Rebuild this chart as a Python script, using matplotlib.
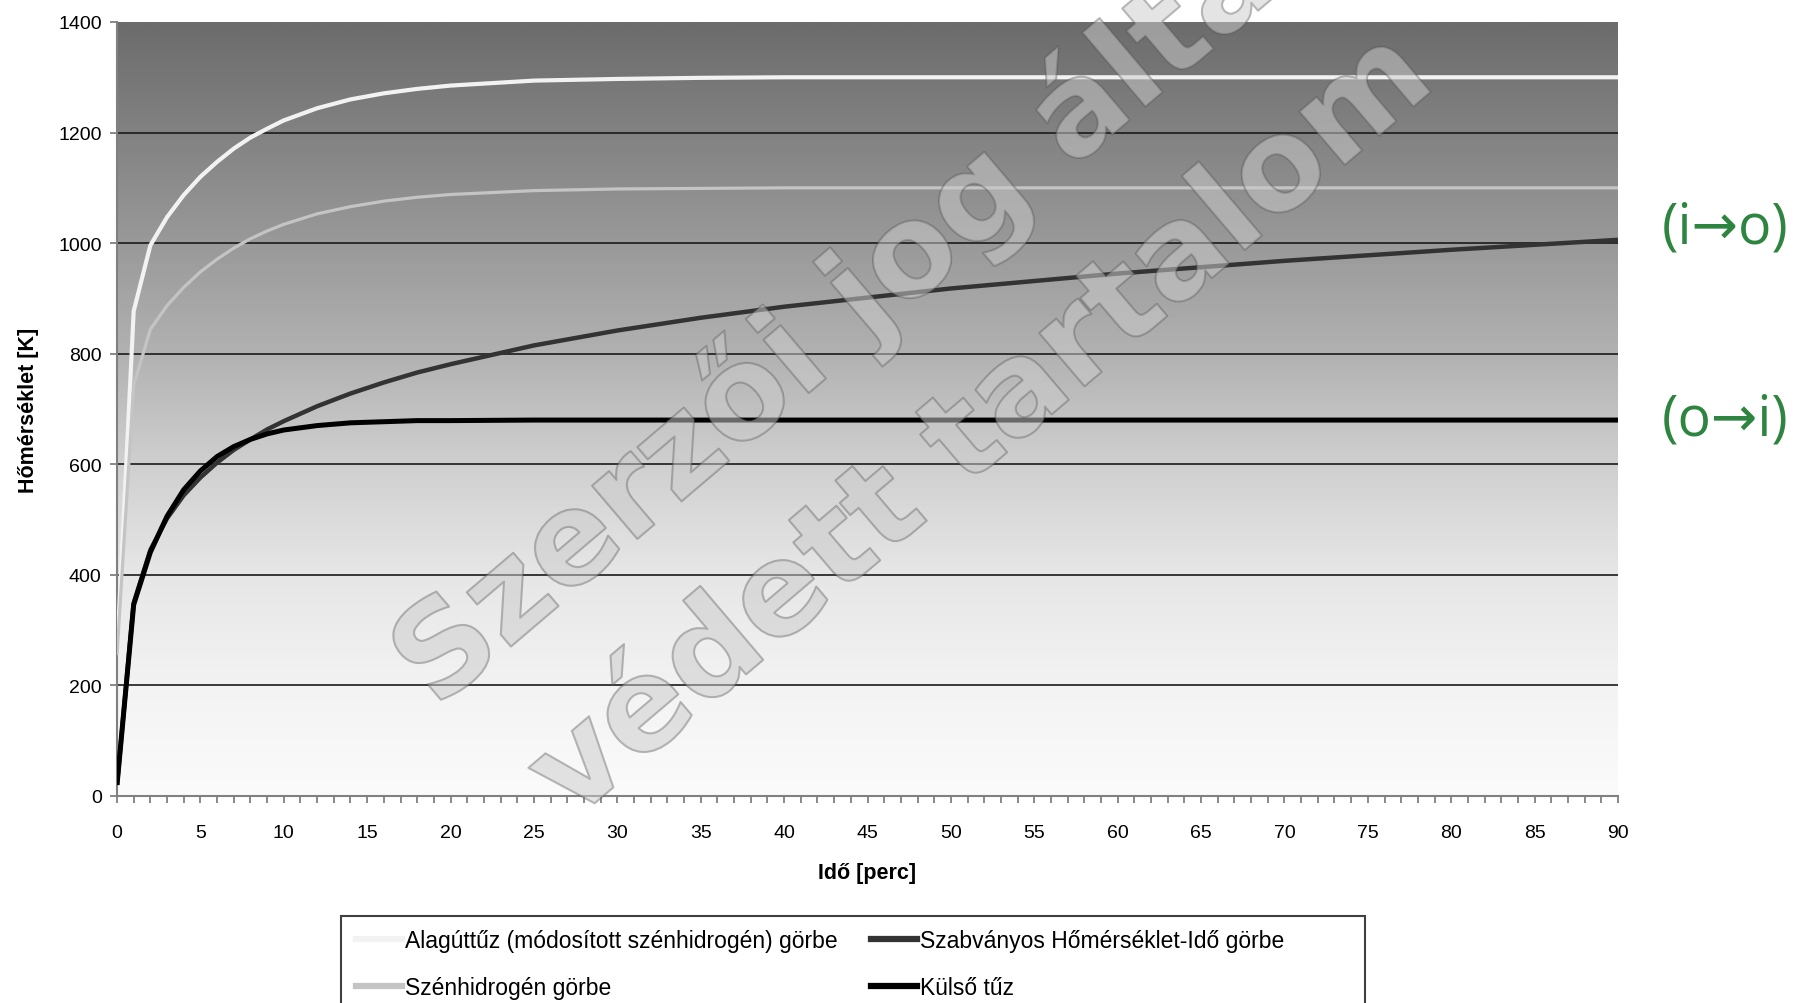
import numpy as np
import matplotlib
matplotlib.use('Agg')
import matplotlib.pyplot as plt
from matplotlib.colors import LinearSegmentedColormap
from matplotlib.lines import Line2D
from matplotlib.patches import Rectangle
import matplotlib.patheffects as pe

## données
ido = [0, 1, 2, 3, 4, 5, 6, 7, 8, 9, 10, 12, 14, 16, 18, 20, 25, 30, 35, 40, 50, 60, 70, 80, 90]
alagut = [255, 877, 996, 1047, 1087, 1120, 1147, 1171, 1191, 1207, 1222, 1244, 1260, 1271, 1279,
          1285, 1294, 1297, 1299, 1300, 1300, 1300, 1300, 1300, 1300]
szenhidrogen = [255, 743, 844, 887, 920, 948, 971, 991, 1008, 1022, 1034, 1053, 1066, 1076, 1083,
                1088, 1095, 1098, 1099, 1100, 1100, 1100, 1100, 1100, 1100]
szabvanyos = [20, 349, 445, 502, 544, 576, 603, 626, 645, 663, 678, 705, 728, 748, 766,
              781, 815, 842, 865, 885, 918, 945, 968, 988, 1006]
kulso = [20, 346, 441, 506, 554, 588, 614, 632, 645, 655, 662, 670, 675, 677, 679,
         679, 680, 680, 680, 680, 680, 680, 680, 680, 680]

nevek = ['Alagúttűz (módosított szénhidrogén) görbe', 'Szénhidrogén görbe',
         'Szabványos Hőmérséklet-Idő görbe', 'Külső tűz']
szinek = ['#f2f2f2', '#c4c4c4', '#333333', '#000000']
vastag = [3.0, 2.3, 3.2, 3.6]

plt.rcParams['font.family'] = ['Liberation Sans', 'DejaVu Sans']

fig = plt.figure(figsize=(17.98, 10.04), dpi=100)
ax = fig.add_axes([117 / 1798, 1 - 797 / 1004, (1618 - 117) / 1798, (797 - 23) / 1004])

## fond en dégradé
fond = LinearSegmentedColormap.from_list('fond', [
    (0.0, '#fbfbfb'), (0.14, '#f3f3f3'), (0.29, '#e6e6e6'), (0.43, '#cfcfcf'),
    (0.57, '#b2b2b2'), (0.71, '#9a9a9a'), (0.86, '#828282'), (1.0, '#6c6c6c')])
grad = np.linspace(0, 1, 400).reshape(-1, 1)
ax.imshow(grad, cmap=fond, origin='lower', extent=[0, 90, 0, 1400], aspect='auto', zorder=0)

for yy in range(200, 1400, 200):
    ax.axhline(yy, color='#1a1a1a', lw=1.2, zorder=1)

series = [alagut, szenhidrogen, szabvanyos, kulso]
for s, nom, c, lw in zip(series, nevek, szinek, vastag):
    ax.plot(ido, s, color=c, lw=lw, label=nom, zorder=3, solid_capstyle='butt')

ax.set_xlim(0, 90)
ax.set_ylim(0, 1400)
ax.set_xticks(range(0, 91, 5))
ax.set_xticks(range(0, 91, 1), minor=True)
ax.set_yticks(range(0, 1401, 200))
for cote in ['top', 'right']:
    ax.spines[cote].set_visible(False)
for cote in ['left', 'bottom']:
    ax.spines[cote].set_color('#808080')
    ax.spines[cote].set_linewidth(1.5)
ax.tick_params(axis='both', which='both', direction='out', color='#808080', width=1.3,
               length=5, labelsize=14)
ax.tick_params(axis='x', which='major', pad=15)
ax.tick_params(axis='y', which='major', pad=6)

ax.set_xlabel('Idő [perc]', fontsize=15.5, fontweight='bold', labelpad=15)
ax.set_ylabel('Hőmérséklet [K]', fontsize=15.5, fontweight='bold', labelpad=14)

## légende
fig.patches.append(Rectangle((341 / 1798, -0.02), (1365 - 341) / 1798, 0.02 + 1 - 917 / 1004,
                             transform=fig.transFigure, facecolor='white',
                             edgecolor='#404040', lw=1.5))
poignees = [Line2D([], [], color=c, lw=4.5) for c in szinek]
fig.legend(poignees, nevek, loc='upper left', bbox_to_anchor=(340 / 1798, 1 - 914 / 1004),
           ncol=2, frameon=False, fontsize=16.5, handlelength=2.0, handletextpad=0.13,
           columnspacing=1.45, labelspacing=1.06, borderpad=0.2)

## annotations
vert = '#2e8540'
fig.text(1725 / 1798, 1 - 229 / 1004, '(i→o)', color=vert, fontsize=40,
         ha='center', va='center', family=['Open Sans', 'DejaVu Sans'])
fig.text(1725 / 1798, 1 - 421 / 1004, '(o→i)', color=vert, fontsize=40,
         ha='center', va='center', family=['Open Sans', 'DejaVu Sans'])

## filigrane
effet = [pe.Stroke(linewidth=1.5, foreground='#505050', alpha=0.4), pe.Normal()]
for txt, cx, cy in [('Szerzői jog által', 852, 308), ('védett tartalom', 982, 428)]:
    fig.text(cx / 1798, 1 - cy / 1004, txt, fontsize=92, family='DejaVu Sans',
             fontweight='bold', rotation=40.4, rotation_mode='anchor',
             ha='center', va='center', color=(0.8, 0.8, 0.8, 0.2),
             path_effects=effet, zorder=10)

fig.savefig('out.png', dpi=100)
